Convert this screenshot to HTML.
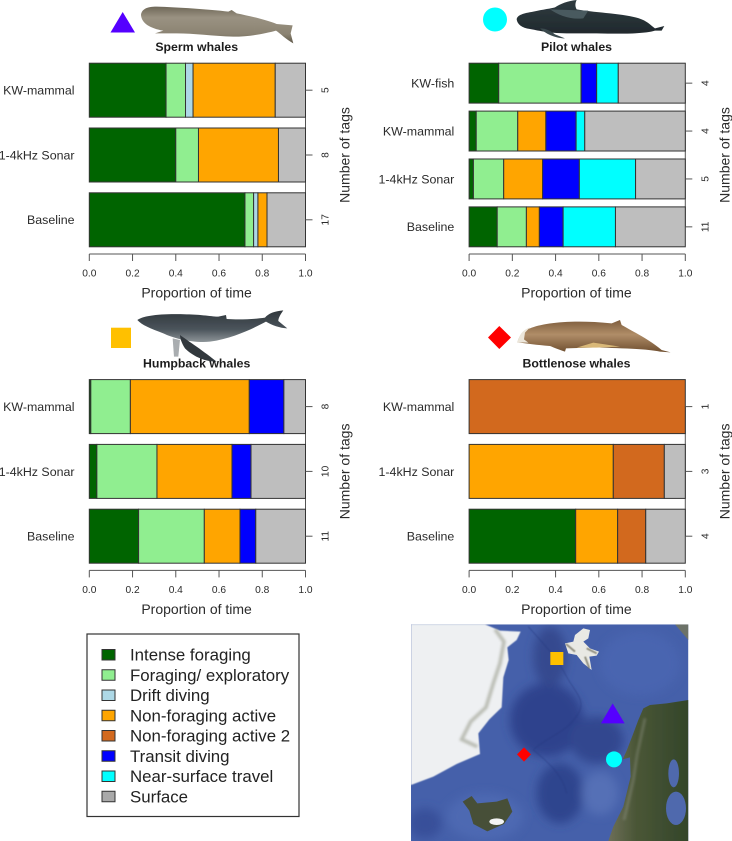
<!DOCTYPE html>
<html lang="en">
<head>
<meta charset="utf-8">
<title>Whale behaviour proportions</title>
<style>
html,body{margin:0;padding:0;background:#fff;}
svg{display:block;font-family:"Liberation Sans",Arial,sans-serif;}
</style>
</head>
<body>
<svg id="fig" xmlns="http://www.w3.org/2000/svg" width="732" height="841" viewBox="0 0 732 841">
<defs>
<linearGradient id="gS" x1="0" y1="0" x2="0" y2="1"><stop offset="0" stop-color="#6f6858"/><stop offset=".3" stop-color="#9a9282"/><stop offset=".75" stop-color="#8b8372"/><stop offset="1" stop-color="#5f5849"/></linearGradient>
<linearGradient id="gP" x1="0" y1="0" x2="0" y2="1"><stop offset="0" stop-color="#2f3b40"/><stop offset="1" stop-color="#20292d"/></linearGradient>
<linearGradient id="gH" x1="0" y1="0" x2="0" y2="1"><stop offset="0" stop-color="#30373c"/><stop offset=".6" stop-color="#4b545b"/><stop offset="1" stop-color="#8d9498"/></linearGradient>
<linearGradient id="gB" x1="0" y1="0" x2="0" y2="1"><stop offset="0" stop-color="#7e5d3c"/><stop offset=".45" stop-color="#b08d68"/><stop offset="1" stop-color="#6f4f30"/></linearGradient>
<linearGradient id="gN" x1="0" y1="0" x2="1" y2="0"><stop offset="0" stop-color="#6d6f58"/><stop offset=".35" stop-color="#4a5636"/><stop offset="1" stop-color="#33462a"/></linearGradient>
<filter id="soft" x="-5%" y="-5%" width="110%" height="110%"><feGaussianBlur stdDeviation="0.35"/></filter>
<filter id="soft2" x="-5%" y="-5%" width="110%" height="110%"><feGaussianBlur stdDeviation="1.2"/></filter>
<filter id="b1" x="-30%" y="-30%" width="160%" height="160%"><feGaussianBlur stdDeviation="4"/></filter>
<filter id="b2" x="-40%" y="-40%" width="180%" height="180%"><feGaussianBlur stdDeviation="14"/></filter>
<clipPath id="mapClip"><rect x="33" y="13" width="832" height="650"/></clipPath>
</defs>

<g id="illustrations">
  <g transform="translate(100,0) scale(.3333)" filter="url(#soft)">
    <path fill="url(#gS)" d="M123 45C125 28 140 20 170 20C230 22 330 28 385 35L395 30L410 40C450 48 500 60 530 72L578 76L572 100L580 130C560 120 540 100 528 92C500 100 450 110 400 110C340 108 280 100 230 100L165 100L190 92C150 85 125 70 123 45Z"/>
  </g>
  <g transform="translate(480,0) scale(.3333)" filter="url(#soft)">
    <path fill="url(#gP)" d="M110 58C112 45 130 40 160 35C190 28 215 25 225 22C240 12 265 2 290 0C285 10 285 20 290 28C340 38 440 40 485 58C505 66 515 78 525 85L553 78L545 92L525 92C495 102 420 102 350 100L260 100C200 100 170 90 150 87C125 84 112 72 110 58Z"/>
    <path fill="#3a4a4e" d="M180 85C200 85 215 95 225 103L255 115C225 115 195 100 180 85Z"/>
    <path fill="#4a5a5e" d="M210 28L325 32L310 55C270 60 235 45 210 28Z"/>
  </g>
  <g transform="translate(100,305) scale(.3333)" filter="url(#soft)">
    <path fill="#a9adb0" d="M218 100L240 105L235 155L222 155Z"/>
    <path fill="url(#gH)" d="M112 45C130 32 180 25 260 28C300 28 340 35 355 35L378 30L380 42C420 45 470 42 495 38C505 25 525 18 550 16C540 30 535 40 535 48L562 70C540 70 515 60 498 50C460 70 400 100 330 110C280 115 220 100 190 85C150 70 125 60 112 45Z"/>
    <path fill="#32393e" d="M240 90C260 105 300 130 350 170C310 170 275 150 255 130C245 115 240 100 240 90Z"/>
  </g>
  <g transform="translate(480,310) scale(.3333)" filter="url(#soft)">
    <path fill="url(#gB)" d="M112 97C118 80 125 60 150 55C190 38 280 28 395 40L420 30L425 45C460 65 510 90 545 120L572 127L540 125C500 116 420 115 350 112L258 115L255 125C240 120 220 112 210 108C170 105 140 100 112 97Z"/>
    <path fill="#ece6da" d="M112 97C118 80 122 62 150 52L135 68L132 88L145 98Z"/>
    <path fill="#d9b878" d="M290 113L340 98L420 110L350 113Z"/>
  </g>
</g>

<g id="panels"></g>

<g>
  <polygon points="122.7,12 135,32.5 110.5,32.5" fill="#5500ff"/>
  <circle cx="495" cy="19.5" r="12" fill="#00ffff"/>
  <rect x="111" y="327.7" width="20" height="20.3" fill="#ffc000"/>
  <polygon points="499.3,326 511,337.5 499.3,349 488,337.5" fill="#ff0000"/>
</g>

<g id="legend">
  <rect x="87" y="634" width="212" height="182.5" fill="#fff" stroke="#333" stroke-width="1.2"/>
</g>

<g>
  <g transform="translate(400,620) scale(.33333)" clip-path="url(#mapClip)">
    <rect x="33" y="13" width="832" height="650" fill="#4560aa"/>
    <g filter="url(#b2)">
      <ellipse cx="440" cy="300" rx="110" ry="110" fill="#2e438d"/>
      <ellipse cx="590" cy="360" rx="80" ry="70" fill="#30468f"/>
      <ellipse cx="480" cy="520" rx="70" ry="90" fill="#2f458e"/>
      <ellipse cx="450" cy="110" rx="50" ry="90" fill="#34498f"/>
      <ellipse cx="720" cy="130" rx="120" ry="95" fill="#4a65b0"/>
      <ellipse cx="255" cy="590" rx="115" ry="70" fill="#4d69b2"/>
      <ellipse cx="75" cy="610" rx="50" ry="45" fill="#384f9a"/>
      <ellipse cx="600" cy="520" rx="55" ry="65" fill="#5570b6"/>
    </g>
    <path d="M385 20C420 60 470 110 500 170C520 210 560 240 535 280C500 340 440 350 400 390C450 430 490 470 500 520" fill="none" stroke="#27397f" stroke-width="3" opacity=".45" filter="url(#soft2)"/>
    <polygon points="33,13 255,13 300,32 362,35 350,60 322,82 326,120 310,172 305,262 268,298 235,340 240,402 170,432 100,470 33,495" fill="#eef0f2" filter="url(#soft2)"/>
    <path d="M285 28L312 65L300 130L280 190L258 262L212 305L185 358L232 380" fill="none" stroke="#8a8d7a" stroke-width="11" opacity=".5" filter="url(#b1)"/>
    <polygon points="865,240 800,250 750,255 730,265 715,300 700,340 680,392 668,418 690,412 692,470 670,560 640,620 625,663 865,663" fill="url(#gN)" filter="url(#soft)"/>
    <path d="M735 295L712 400L700 480L672 600" fill="none" stroke="#9a9c90" stroke-width="8" opacity=".4" filter="url(#b1)"/>
    <ellipse cx="821" cy="460" rx="16" ry="42" fill="#4f69ad"/>
    <ellipse cx="828" cy="565" rx="30" ry="50" fill="#4f69ad"/>
    <polygon points="188,545 215,528 232,550 290,545 322,535 337,575 312,612 262,634 220,612 208,572" fill="#474f38" filter="url(#soft)"/>
    <ellipse cx="290" cy="605" rx="22" ry="10" fill="#f3f4f4"/>
    <polygon points="495,70 520,65 525,45 550,25 570,30 565,55 550,65 570,85 597,95 590,107 568,110 575,150 550,130 530,105 505,100" fill="#e9e9e4" filter="url(#soft)"/>
    <path d="M498 72L525 95M560 85L590 100M555 110L568 145" fill="none" stroke="#6d6a58" stroke-width="6" opacity=".7" filter="url(#soft2)"/>
    <polygon points="825,13 865,13 865,60" fill="#6c7268"/>
    <rect x="451" y="96" width="39" height="39" fill="#ffc000"/>
    <polygon points="638,250 674,310 603,310" fill="#5500ff"/>
    <polygon points="372,382 393,403 372,425 351,403" fill="#ff0000"/>
    <circle cx="642" cy="418" r="24" fill="#00ffff"/>
  </g>
</g>
</svg>

<script>
// Behaviour states, in stacking order
var stateNames = ["Intense foraging", "Foraging/ exploratory", "Drift diving", "Non-foraging active", "Non-foraging active 2", "Transit diving", "Near-surface travel", "Surface"];
var stateColors = ["#006400", "#90ee90", "#add8e6", "#ffa500", "#d2691e", "#0000ff", "#00ffff", "#bebebe"];
var tickValues = [0, 0.2, 0.4, 0.6, 0.8, 1];

// Sperm whales
var spermCategories = ["KW-mammal", "1-4kHz Sonar", "Baseline"];
var spermTags = [5, 8, 17];
var spermKwMammal = [0.355, 0.09, 0.035, 0.38, 0, 0, 0, 0.14];
var spermSonar = [0.40, 0.105, 0, 0.37, 0, 0, 0, 0.125];
var spermBaseline = [0.72, 0.04, 0.02, 0.042, 0, 0, 0, 0.178];

// Pilot whales
var pilotCategories = ["KW-fish", "KW-mammal", "1-4kHz Sonar", "Baseline"];
var pilotTags = [4, 4, 5, 11];
var pilotKwFish = [0.137, 0.381, 0, 0, 0, 0.072, 0.10, 0.31];
var pilotKwMammal = [0.033, 0.192, 0, 0.13, 0, 0.14, 0.04, 0.465];
var pilotSonar = [0.02, 0.14, 0, 0.18, 0, 0.17, 0.26, 0.23];
var pilotBaseline = [0.13, 0.135, 0, 0.06, 0, 0.11, 0.242, 0.323];

// Humpback whales
var humpbackCategories = ["KW-mammal", "1-4kHz Sonar", "Baseline"];
var humpbackTags = [8, 10, 11];
var humpbackKwMammal = [0.007, 0.183, 0, 0.55, 0, 0.16, 0, 0.10];
var humpbackSonar = [0.035, 0.278, 0, 0.347, 0, 0.088, 0, 0.252];
var humpbackBaseline = [0.228, 0.304, 0, 0.165, 0, 0.073, 0, 0.23];

// Bottlenose whales
var bottlenoseCategories = ["KW-mammal", "1-4kHz Sonar", "Baseline"];
var bottlenoseTags = [1, 3, 4];
var bottlenoseKwMammal = [0, 0, 0, 0, 1, 0, 0, 0];
var bottlenoseSonar = [0, 0, 0, 0.667, 0.236, 0, 0, 0.097];
var bottlenoseBaseline = [0.493, 0, 0, 0.194, 0.13, 0, 0, 0.183];

var NS = "http://www.w3.org/2000/svg";
var panelsRoot = document.getElementById("panels");
var legendRoot = document.getElementById("legend");
var INK = "#2b2b2b";

function make(parent, tag, attrs, text) {
  var el = document.createElementNS(NS, tag);
  for (var k in attrs) { el.setAttribute(k, attrs[k]); }
  if (text !== undefined) { el.textContent = text; }
  parent.appendChild(el);
  return el;
}

function drawPanel(name, title, left, top, categories, tags, rows) {
  var right = left + 216.2;
  var bottom = top + 183.6;
  var axisY = bottom + 7.2;
  var xScale = function (v) { return left + v * (right - left); };
  var unit = (bottom - top) / (categories.length + (categories.length - 1) * 0.2);
  var yBand = function (i) { return top + i * unit * 1.2; };
  var mid = (left + right) / 2;

  var g = make(panelsRoot, "g", {});
  
  

  var t = make(g, "text", { x: mid - 0.7, y: top - 12, "text-anchor": "middle", "font-size": "12.3", "font-weight": "bold", fill: "#1c1c1c" }, title);
  
  

  var rightAxis = make(g, "line", { x1: right, x2: right, y1: yBand(0) + unit / 2, y2: yBand(categories.length - 1) + unit / 2, stroke: "#555", "stroke-width": 1 });
  
  

  categories.forEach(function (cat, i) {
    var y = yBand(i);
    var cy = y + unit / 2;
    var cum = 0;
    rows[i].forEach(function (val, s) {
      if (val <= 0) { return; }
      var r = make(g, "rect", { x: xScale(cum), y: y, width: xScale(cum + val) - xScale(cum), height: unit, fill: stateColors[s], stroke: "#333", "stroke-width": 1 });
      
      
      cum += val;
    });
    var lab = make(g, "text", { x: left - 14.8, y: cy + 4.4, "text-anchor": "end", "font-size": "12.4", fill: INK }, cat);
    
    
    var tk = make(g, "line", { x1: right, x2: right + 7, y1: cy, y2: cy, stroke: "#555", "stroke-width": 1 });
    
    
    var n = make(g, "text", { transform: "translate(" + (right + 23) + "," + cy + ") rotate(-90)", "text-anchor": "middle", "font-size": "10.2", fill: INK }, tags[i]);
    
    
  });

  var axis = make(g, "line", { x1: xScale(0), x2: xScale(1), y1: axisY, y2: axisY, stroke: "#555", "stroke-width": 1 });
  
  
  tickValues.forEach(function (v) {
    var tick = make(g, "line", { x1: xScale(v), x2: xScale(v), y1: axisY, y2: axisY + 7, stroke: "#555", "stroke-width": 1 });
    
    
    var lb = make(g, "text", { x: xScale(v), y: axisY + 22.5, "text-anchor": "middle", "font-size": "10.2", fill: INK }, v.toFixed(1));
    
    
  });
  var xt = make(g, "text", { x: mid - 0.8, y: axisY + 43.5, "text-anchor": "middle", "font-size": "14", fill: INK }, "Proportion of time");
  
  
  var yt = make(g, "text", { transform: "translate(" + (right + 44) + "," + ((top + bottom) / 2) + ") rotate(-90)", "text-anchor": "middle", "font-size": "14", fill: INK }, "Number of tags");
  
  
}

drawPanel("sperm-whales", "Sperm whales", 89.3, 63.2, spermCategories, spermTags, [spermKwMammal, spermSonar, spermBaseline]);
drawPanel("pilot-whales", "Pilot whales", 469.1, 63.2, pilotCategories, pilotTags, [pilotKwFish, pilotKwMammal, pilotSonar, pilotBaseline]);
drawPanel("humpback-whales", "Humpback whales", 89.3, 379.6, humpbackCategories, humpbackTags, [humpbackKwMammal, humpbackSonar, humpbackBaseline]);
drawPanel("bottlenose-whales", "Bottlenose whales", 469.1, 379.6, bottlenoseCategories, bottlenoseTags, [bottlenoseKwMammal, bottlenoseSonar, bottlenoseBaseline]);

stateNames.forEach(function (label, i) {
  var cy = 655 + i * 20.25;
  var fill = i === 7 ? "#a9a9a9" : stateColors[i];
  var sw = make(legendRoot, "rect", { x: 102, y: cy - 5.5, width: 13, height: 10.5, fill: fill, stroke: "#333", "stroke-width": 1 });
  
  
  var tx = make(legendRoot, "text", { x: 130, y: cy + 5.6, "font-size": "16.85", fill: "#222" }, label);
  
  
});
</script>
</body>
</html>
